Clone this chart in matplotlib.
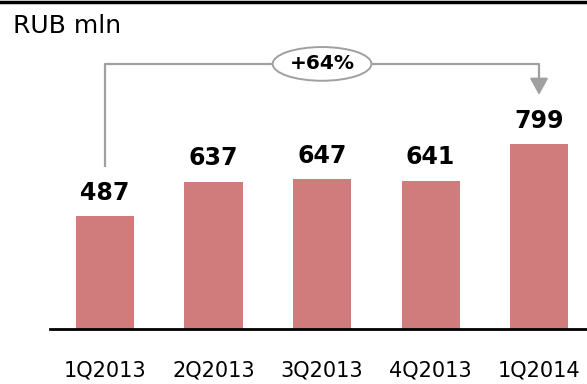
import matplotlib.pyplot as plt
from matplotlib.lines import Line2D

quarters = ['1Q2013', '2Q2013', '3Q2013', '4Q2013', '1Q2014']
values = [487, 637, 647, 641, 799]
growth_label = '+64%'

bar_color = '#D07C7D'
grey = '#A0A0A0'

fig = plt.figure(figsize=(5.87, 3.84), dpi=100)
ax = fig.add_axes([50 / 587, 55 / 384, 537 / 587, 329 / 384])

x = list(range(len(quarters)))
bars = ax.bar(x, values, width=0.535, color=bar_color)

# value labels above bars
for xi, v in zip(x, values):
    ax.annotate(str(v), (xi, v), xytext=(0, 8), textcoords='offset points',
                ha='center', va='bottom', fontsize=17, fontweight='bold')

ax.set_xlim(-0.507, 4.442)
ax.set_ylim(0, 1421)
ax.set_xticks(x)
ax.set_xticklabels(quarters, fontsize=15)
ax.tick_params(axis='x', length=0, pad=23)
ax.set_yticks([])
for s in ['top', 'right', 'left']:
    ax.spines[s].set_visible(False)
ax.spines['bottom'].set_linewidth(2)

# growth bracket from first to last bar
top = 1145
ax.plot([0, 0, 4, 4], [700, top, top, 1075], color=grey, lw=1.6, solid_capstyle='butt')
ax.annotate('', xy=(4, 1011), xytext=(4, 1078),
            arrowprops=dict(arrowstyle='-|>,head_width=0.55,head_length=1.0',
                            color=grey, lw=1.6, shrinkA=0, shrinkB=0))
ax.text(2, top, growth_label, ha='center', va='center', fontsize=14.5, fontweight='bold',
        bbox=dict(boxstyle='ellipse,pad=0.12', fc='white', ec=grey, lw=1.4))

fig.text(13 / 587, 1 - 26 / 384, 'RUB mln', fontsize=18, va='center', ha='left')
fig.add_artist(Line2D([0, 1], [0.996, 0.996], color='black', lw=2.5, transform=fig.transFigure))

fig.savefig('out.png', dpi=100)
